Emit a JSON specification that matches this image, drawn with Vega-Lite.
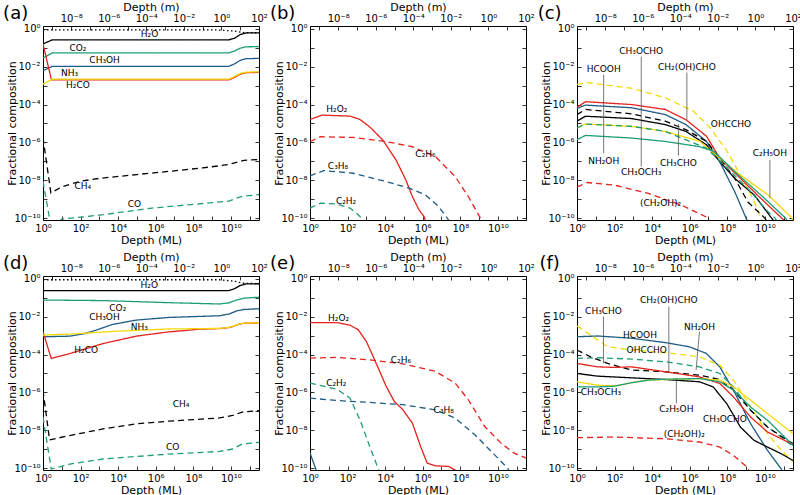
{
"$schema": "https://vega.github.io/schema/vega-lite/v6.json",
"background": "white",
"padding": {"left": 2, "top": 0, "right": 0, "bottom": 0},
"bounds": "flush",
"columns": 3,
"spacing": {"row": 56, "column": 51},
"resolve": {"scale": {"x": "independent", "y": "independent", "color": "independent", "strokeDash": "independent"}},
"config": {
  "view": {"stroke": "#000", "strokeWidth": 1},
  "font": "DejaVu Sans",
  "axis": {"grid": false, "domain": false, "tickColor": "#000", "tickSize": -4, "tickWidth": 0.8, "labelColor": "#000", "labelFontSize": 10, "labelFont": "DejaVu Sans", "titleFont": "DejaVu Sans", "titleFontSize": 11, "titleFontWeight": "normal", "titleColor": "#000", "labelPadding": 7, "labelFlush": false, "labelOverlap": false, "labelBound": false},
  "axisLeft": {"titleX": -26, "titleY": 97, "titleAngle": 270, "titleBaseline": "bottom", "titleAlign": "center"},
  "axisBottom": {"titleX": 108, "titleY": 20, "titleAngle": 0, "titleBaseline": "middle", "titleAlign": "center"},
  "axisTop": {"titleX": 108, "titleY": -19, "titleAngle": 0, "titleBaseline": "middle", "titleAlign": "center"}
},
"datasets": {
  "top": [{"m": 1e-9, "v": 1e-5}, {"m": 100, "v": 1e-5}],
  "letters_a": [{"t": "(a)", "x": 0.035, "y": 6}],
  "letters_b": [{"t": "(b)", "x": 0.035, "y": 6}],
  "letters_c": [{"t": "(c)", "x": 0.035, "y": 6}],
  "letters_d": [{"t": "(d)", "x": 0.035, "y": 6}],
  "letters_e": [{"t": "(e)", "x": 0.035, "y": 6}],
  "letters_f": [{"t": "(f)", "x": 0.035, "y": 6}],
  "a": [
    {"s":"total","x":1,"y":0.871},{"s":"total","x":2.0e9,"y":0.871},{"s":"total","x":1.58e10,"y":0.759},{"s":"total","x":5.01e10,"y":0.631},{"s":"total","x":3.16e11,"y":0.617},
    {"s":"H2O","x":1,"y":0.158},{"s":"H2O","x":3.16,"y":0.263},{"s":"H2O","x":7.94e9,"y":0.263},{"s":"H2O","x":1.58e10,"y":0.316},{"s":"H2O","x":3.16e10,"y":0.501},{"s":"H2O","x":6.31e10,"y":0.603},{"s":"H2O","x":3.16e11,"y":0.617},
    {"s":"CO2","x":1,"y":0.0288},{"s":"CO2","x":3.16,"y":0.0537},{"s":"CO2","x":7.94e9,"y":0.0537},{"s":"CO2","x":1.58e10,"y":0.0676},{"s":"CO2","x":3.16e10,"y":0.0955},{"s":"CO2","x":6.31e10,"y":0.112},{"s":"CO2","x":3.16e11,"y":0.115},
    {"s":"CH3OH","x":1,"y":6.17e-3},{"s":"CH3OH","x":3.16,"y":0.01047},{"s":"CH3OH","x":7.94e9,"y":0.01047},{"s":"CH3OH","x":1.58e10,"y":0.0141},{"s":"CH3OH","x":3.16e10,"y":0.0214},{"s":"CH3OH","x":6.31e10,"y":0.0263},{"s":"CH3OH","x":3.16e11,"y":0.0275},
    {"s":"H2CO","x":1,"y":0.158},{"s":"H2CO","x":2.82,"y":2.0e-3},{"s":"H2CO","x":7.94e9,"y":2.0e-3},{"s":"H2CO","x":1.58e10,"y":2.75e-3},{"s":"H2CO","x":3.16e10,"y":3.98e-3},{"s":"H2CO","x":6.31e10,"y":4.79e-3},{"s":"H2CO","x":3.16e11,"y":5.01e-3},
    {"s":"NH3","x":1,"y":1.2e-3},{"s":"NH3","x":3.16,"y":2.19e-3},{"s":"NH3","x":7.94e9,"y":2.19e-3},{"s":"NH3","x":1.58e10,"y":3.02e-3},{"s":"NH3","x":3.16e10,"y":4.37e-3},{"s":"NH3","x":6.31e10,"y":5.13e-3},{"s":"NH3","x":3.16e11,"y":5.37e-3},
    {"s":"CH4","x":1,"y":1.78e-6},{"s":"CH4","x":2.63,"y":2.14e-9},{"s":"CH4","x":10,"y":4.47e-9},{"s":"CH4","x":100,"y":8.91e-9},{"s":"CH4","x":1000,"y":1.26e-8},{"s":"CH4","x":1e5,"y":2.0e-8},{"s":"CH4","x":1e7,"y":3.16e-8},{"s":"CH4","x":3.16e8,"y":4.47e-8},{"s":"CH4","x":7.94e9,"y":6.76e-8},{"s":"CH4","x":2.0e10,"y":8.91e-8},{"s":"CH4","x":5.01e10,"y":1.12e-7},{"s":"CH4","x":3.16e11,"y":1.26e-7},
    {"s":"CO","x":1,"y":8.91e-9},{"s":"CO","x":2.82,"y":2.51e-11},{"s":"CO","x":10,"y":8.91e-11},{"s":"CO","x":100,"y":1.12e-10},{"s":"CO","x":1585,"y":1.51e-10},{"s":"CO","x":6.31e5,"y":3.39e-10},{"s":"CO","x":7.08e8,"y":6.31e-10},{"s":"CO","x":7.94e9,"y":7.94e-10},{"s":"CO","x":2.0e10,"y":1.12e-9},{"s":"CO","x":3.98e10,"y":1.41e-9},{"s":"CO","x":3.16e11,"y":1.74e-9}
  ],
  "d": [
    {"s":"total","x":1,"y":0.891},{"s":"total","x":2.51e9,"y":0.891},{"s":"total","x":1.58e10,"y":0.741},{"s":"total","x":3.98e10,"y":0.589},{"s":"total","x":3.16e11,"y":0.55},
    {"s":"H2O","x":1,"y":0.24},{"s":"H2O","x":7.94e9,"y":0.24},{"s":"H2O","x":1.58e10,"y":0.302},{"s":"H2O","x":3.16e10,"y":0.447},{"s":"H2O","x":6.31e10,"y":0.537},{"s":"H2O","x":3.16e11,"y":0.55},
    {"s":"CO2","x":1,"y":0.0759},{"s":"CO2","x":1585,"y":0.0708},{"s":"CO2","x":5.01e6,"y":0.055},{"s":"CO2","x":2.51e9,"y":0.0468},{"s":"CO2","x":7.94e9,"y":0.0537},{"s":"CO2","x":2.0e10,"y":0.0759},{"s":"CO2","x":5.01e10,"y":0.0955},{"s":"CO2","x":3.16e11,"y":0.107},
    {"s":"CH3OH","x":1,"y":8.71e-4},{"s":"CH3OH","x":26.3,"y":9.33e-4},{"s":"CH3OH","x":158,"y":1.26e-3},{"s":"CH3OH","x":676,"y":1.95e-3},{"s":"CH3OH","x":5012,"y":3.89e-3},{"s":"CH3OH","x":9.12e4,"y":6.61e-3},{"s":"CH3OH","x":5.01e6,"y":9.12e-3},{"s":"CH3OH","x":2.51e9,"y":0.0112},{"s":"CH3OH","x":7.94e9,"y":0.0138},{"s":"CH3OH","x":2.0e10,"y":0.02},{"s":"CH3OH","x":5.01e10,"y":0.024},{"s":"CH3OH","x":3.16e11,"y":0.0263},
    {"s":"H2CO","x":1,"y":1.58e-3},{"s":"H2CO","x":2.75,"y":6.17e-5},{"s":"H2CO","x":26.3,"y":1.12e-4},{"s":"H2CO","x":1549,"y":3.8e-4},{"s":"H2CO","x":9.12e4,"y":9.33e-4},{"s":"H2CO","x":5.01e6,"y":1.58e-3},{"s":"H2CO","x":6.31e7,"y":1.95e-3},{"s":"H2CO","x":2.0e8,"y":2.19e-3},{"s":"H2CO","x":2.51e9,"y":2.34e-3},{"s":"H2CO","x":1e10,"y":2.75e-3},{"s":"H2CO","x":2.51e10,"y":3.89e-3},{"s":"H2CO","x":5.01e10,"y":4.47e-3},{"s":"H2CO","x":3.16e11,"y":4.68e-3},
    {"s":"NH3","x":1,"y":1.07e-3},{"s":"NH3","x":26.3,"y":1.2e-3},{"s":"NH3","x":1.17e4,"y":1.74e-3},{"s":"NH3","x":5.01e6,"y":2.24e-3},{"s":"NH3","x":2.51e9,"y":2.4e-3},{"s":"NH3","x":1e10,"y":2.82e-3},{"s":"NH3","x":2.51e10,"y":3.98e-3},{"s":"NH3","x":5.01e10,"y":4.57e-3},{"s":"NH3","x":3.16e11,"y":4.79e-3},
    {"s":"CH4","x":1,"y":1.26e-6},{"s":"CH4","x":2.24,"y":3.09e-9},{"s":"CH4","x":26.3,"y":5.25e-9},{"s":"CH4","x":1549,"y":1.17e-8},{"s":"CH4","x":9.12e4,"y":2.19e-8},{"s":"CH4","x":5.01e6,"y":3.02e-8},{"s":"CH4","x":2.51e9,"y":4.47e-8},{"s":"CH4","x":1.26e10,"y":6.03e-8},{"s":"CH4","x":3.98e10,"y":9.12e-8},{"s":"CH4","x":3.16e11,"y":1.1e-7},
    {"s":"CO","x":1,"y":4.9e-8},{"s":"CO","x":2.75,"y":8.91e-11},{"s":"CO","x":26.3,"y":1.62e-10},{"s":"CO","x":1549,"y":3.02e-10},{"s":"CO","x":5.01e6,"y":5.5e-10},{"s":"CO","x":2.51e9,"y":7.59e-10},{"s":"CO","x":1.26e10,"y":1.02e-9},{"s":"CO","x":3.98e10,"y":1.86e-9},{"s":"CO","x":3.16e11,"y":2.29e-9}
  ],
  "b": [
    {"s":"H2O2","x":1,"y":1.62e-5},{"s":"H2O2","x":4.47,"y":2.75e-5},{"s":"H2O2","x":135,"y":2.45e-5},{"s":"H2O2","x":457,"y":1.62e-5},{"s":"H2O2","x":1514,"y":6.61e-6},{"s":"H2O2","x":7586,"y":1.32e-6},{"s":"H2O2","x":3.8e4,"y":1.17e-7},{"s":"H2O2","x":1.26e5,"y":1.05e-8},{"s":"H2O2","x":2.82e5,"y":1.38e-9},{"s":"H2O2","x":6.31e5,"y":2.75e-10},{"s":"H2O2","x":1.17e6,"y":1.23e-10},{"s":"H2O2","x":1.58e6,"y":5.01e-11},
    {"s":"C2H6","x":1,"y":1.1e-6},{"s":"C2H6","x":3.63,"y":2.0e-6},{"s":"C2H6","x":200,"y":1.82e-6},{"s":"C2H6","x":1.15e4,"y":1.1e-6},{"s":"C2H6","x":2.82e5,"y":5.89e-7},{"s":"C2H6","x":4.79e6,"y":1.78e-7},{"s":"C2H6","x":5.37e7,"y":1.55e-8},{"s":"C2H6","x":2.69e8,"y":1.38e-9},{"s":"C2H6","x":1.35e9,"y":7.94e-11},{"s":"C2H6","x":2.0e9,"y":3.98e-11},
    {"s":"C3H8","x":1,"y":1.7e-8},{"s":"C3H8","x":5.37,"y":3.24e-8},{"s":"C3H8","x":200,"y":2.34e-8},{"s":"C3H8","x":1.15e4,"y":8.51e-9},{"s":"C3H8","x":1.91e5,"y":3.8e-9},{"s":"C3H8","x":1.41e6,"y":1.7e-9},{"s":"C3H8","x":7.08e6,"y":4.07e-10},{"s":"C3H8","x":2.4e7,"y":7.94e-11},{"s":"C3H8","x":3.16e7,"y":5.01e-11},
    {"s":"C2H2","x":1,"y":3.39e-10},{"s":"C2H2","x":3.63,"y":6.17e-10},{"s":"C2H2","x":26.9,"y":5.62e-10},{"s":"C2H2","x":135,"y":3.39e-10},{"s":"C2H2","x":372,"y":1.51e-10},{"s":"C2H2","x":676,"y":7.94e-11},{"s":"C2H2","x":891,"y":5.01e-11}
  ],
  "e": [
    {"s":"H2O2","x":1,"y":4.9e-3},{"s":"H2O2","x":26.9,"y":4.9e-3},{"s":"H2O2","x":135,"y":3.55e-3},{"s":"H2O2","x":372,"y":2.04e-3},{"s":"H2O2","x":1000,"y":4.9e-4},{"s":"H2O2","x":2291,"y":7.94e-5},{"s":"H2O2","x":5129,"y":1.29e-5},{"s":"H2O2","x":1.15e4,"y":2.04e-6},{"s":"H2O2","x":3.09e4,"y":3.31e-7},{"s":"H2O2","x":8.51e4,"y":1.26e-7},{"s":"H2O2","x":2.82e5,"y":2.4e-8},{"s":"H2O2","x":7.76e5,"y":1.38e-9},{"s":"H2O2","x":1.74e6,"y":1.82e-10},{"s":"H2O2","x":4.79e6,"y":1.32e-10},{"s":"H2O2","x":2.4e7,"y":1.23e-10},{"s":"H2O2","x":7.94e7,"y":6.31e-11},
    {"s":"C2H6","x":1,"y":6.46e-5},{"s":"C2H6","x":26.9,"y":7.08e-5},{"s":"C2H6","x":1514,"y":5.25e-5},{"s":"C2H6","x":8.51e4,"y":3.24e-5},{"s":"C2H6","x":4.79e6,"y":1.29e-5},{"s":"C2H6","x":5.37e7,"y":3.09e-6},{"s":"C2H6","x":2.69e8,"y":4.07e-7},{"s":"C2H6","x":2.0e9,"y":1.58e-8},{"s":"C2H6","x":1.48e10,"y":2.09e-9},{"s":"C2H6","x":7.41e10,"y":6.17e-10},{"s":"C2H6","x":3.16e11,"y":3.39e-10},
    {"s":"C3H8","x":1,"y":5.01e-7},{"s":"C3H8","x":26.9,"y":3.72e-7},{"s":"C3H8","x":1514,"y":2.95e-7},{"s":"C3H8","x":8.51e4,"y":2.24e-7},{"s":"C3H8","x":4.79e6,"y":1.2e-7},{"s":"C3H8","x":5.37e7,"y":4.37e-8},{"s":"C3H8","x":6.03e8,"y":5.75e-9},{"s":"C3H8","x":6.76e9,"y":5.01e-10},{"s":"C3H8","x":3.31e10,"y":1e-10},{"s":"C3H8","x":5.01e10,"y":5.01e-11},
    {"s":"C2H2","x":1,"y":3.09e-6},{"s":"C2H2","x":26.9,"y":1.48e-6},{"s":"C2H2","x":135,"y":5.01e-7},{"s":"C2H2","x":457,"y":3.55e-8},{"s":"C2H2","x":1514,"y":1.38e-9},{"s":"C2H2","x":4169,"y":1e-10},{"s":"C2H2","x":5623,"y":5.01e-11},
    {"s":"other","x":1,"y":6.31e-10},{"s":"other","x":2.51,"y":5.01e-11}
  ],
  "c": [
    {"s":"OHCCHO","x":1,"y":1.17e-3},{"s":"OHCCHO","x":3.55,"y":1.45e-3},{"s":"OHCCHO","x":794,"y":7.24e-4},{"s":"OHCCHO","x":5.01e4,"y":2.29e-4},{"s":"OHCCHO","x":1.58e6,"y":4.47e-5},{"s":"OHCCHO","x":1.26e7,"y":5.75e-6},{"s":"OHCCHO","x":1e8,"y":3.31e-7},{"s":"OHCCHO","x":5.01e8,"y":1.86e-8},{"s":"OHCCHO","x":2.82e9,"y":7.08e-10},{"s":"OHCCHO","x":6.31e9,"y":1e-10},{"s":"OHCCHO","x":8.91e9,"y":5.01e-11},
    {"s":"CH2(OH)CHO","x":1,"y":7.24e-5},{"s":"CH2(OH)CHO","x":2.82,"y":1.41e-4},{"s":"CH2(OH)CHO","x":794,"y":1e-4},{"s":"CH2(OH)CHO","x":5.01e4,"y":5.5e-5},{"s":"CH2(OH)CHO","x":6.31e5,"y":1.58e-5},{"s":"CH2(OH)CHO","x":7.94e6,"y":2.09e-6},{"s":"CH2(OH)CHO","x":3.98e7,"y":1.45e-7},{"s":"CH2(OH)CHO","x":5.01e8,"y":1.26e-8},{"s":"CH2(OH)CHO","x":6.31e9,"y":1.07e-9},{"s":"CH2(OH)CHO","x":7.94e10,"y":1e-10},{"s":"CH2(OH)CHO","x":1.58e11,"y":5.01e-11},
    {"s":"HCOOH","x":1,"y":6.17e-5},{"s":"HCOOH","x":2.82,"y":9.33e-5},{"s":"HCOOH","x":794,"y":6.76e-5},{"s":"HCOOH","x":5.01e4,"y":2.95e-5},{"s":"HCOOH","x":6.31e5,"y":8.71e-6},{"s":"HCOOH","x":7.94e6,"y":1.12e-6},{"s":"HCOOH","x":3.98e7,"y":9.55e-8},{"s":"HCOOH","x":2.51e8,"y":2.45e-9},{"s":"HCOOH","x":1e9,"y":1e-10},{"s":"HCOOH","x":1.58e9,"y":3.98e-11},
    {"s":"CH3CHO","x":1,"y":2.95e-5},{"s":"CH3CHO","x":2.82,"y":5.5e-5},{"s":"CH3CHO","x":794,"y":3.24e-5},{"s":"CH3CHO","x":5.01e4,"y":1.32e-5},{"s":"CH3CHO","x":6.31e5,"y":4.68e-6},{"s":"CH3CHO","x":7.94e6,"y":1.12e-6},{"s":"CH3CHO","x":3.98e7,"y":1.45e-7},{"s":"CH3CHO","x":2.51e8,"y":1.26e-8},{"s":"CH3CHO","x":1.26e9,"y":7.08e-10},{"s":"CH3CHO","x":1e10,"y":1e-10},{"s":"CH3CHO","x":1.58e10,"y":5.01e-11},
    {"s":"CH3OCHO","x":1,"y":1.32e-5},{"s":"CH3OCHO","x":2.82,"y":2.4e-5},{"s":"CH3OCHO","x":794,"y":1.82e-5},{"s":"CH3OCHO","x":5.01e4,"y":8.71e-6},{"s":"CH3OCHO","x":6.31e5,"y":3.8e-6},{"s":"CH3OCHO","x":7.94e6,"y":7.41e-7},{"s":"CH3OCHO","x":3.98e7,"y":9.55e-8},{"s":"CH3OCHO","x":2.51e8,"y":1.26e-8},{"s":"CH3OCHO","x":2.82e9,"y":1.62e-9},{"s":"CH3OCHO","x":2.29e10,"y":1e-10},{"s":"CH3OCHO","x":3.98e10,"y":5.01e-11},
    {"s":"C2H5OH","x":1,"y":5.75e-6},{"s":"C2H5OH","x":2.82,"y":9.33e-6},{"s":"C2H5OH","x":794,"y":7.08e-6},{"s":"C2H5OH","x":5.01e4,"y":3.8e-6},{"s":"C2H5OH","x":3.55e6,"y":1.12e-6},{"s":"C2H5OH","x":3.98e7,"y":1.45e-7},{"s":"C2H5OH","x":5.01e8,"y":1.86e-8},{"s":"C2H5OH","x":1.58e10,"y":1.62e-9},{"s":"C2H5OH","x":2.82e11,"y":1e-10},{"s":"C2H5OH","x":3.16e11,"y":7.94e-11},
    {"s":"NH2OH","x":1,"y":5.75e-6},{"s":"NH2OH","x":2.82,"y":9.33e-6},{"s":"NH2OH","x":794,"y":7.08e-6},{"s":"NH2OH","x":5.01e4,"y":3.8e-6},{"s":"NH2OH","x":7.94e6,"y":4.9e-7},{"s":"NH2OH","x":1e8,"y":4.27e-8},{"s":"NH2OH","x":1.26e9,"y":3.63e-9},{"s":"NH2OH","x":1.51e10,"y":2.09e-10},{"s":"NH2OH","x":3.55e10,"y":1e-10},{"s":"NH2OH","x":5.01e10,"y":5.01e-11},
    {"s":"CH3OCH3","x":1,"y":1.38e-6},{"s":"CH3OCH3","x":2.82,"y":2.34e-6},{"s":"CH3OCH3","x":794,"y":1.7e-6},{"s":"CH3OCH3","x":5.01e4,"y":1.12e-6},{"s":"CH3OCH3","x":3.16e6,"y":6.03e-7},{"s":"CH3OCH3","x":2.0e7,"y":3.31e-7},{"s":"CH3OCH3","x":2.51e8,"y":2.82e-8},{"s":"CH3OCH3","x":6.31e9,"y":1.62e-9},{"s":"CH3OCH3","x":1.26e11,"y":1e-10},{"s":"CH3OCH3","x":2.0e11,"y":5.01e-11},
    {"s":"(CH2OH)2","x":1,"y":4.47e-9},{"s":"(CH2OH)2","x":3.55,"y":7.59e-9},{"s":"(CH2OH)2","x":100,"y":5.5e-9},{"s":"(CH2OH)2","x":6310,"y":2.0e-9},{"s":"(CH2OH)2","x":3.98e5,"y":4.68e-10},{"s":"(CH2OH)2","x":7.94e6,"y":1.12e-10},{"s":"(CH2OH)2","x":1.58e7,"y":5.01e-11}
  ],
  "f": [
    {"s":"HCOOH","x":1,"y":8.71e-4},{"s":"HCOOH","x":12.3,"y":9.55e-4},{"s":"HCOOH","x":794,"y":7.24e-4},{"s":"HCOOH","x":5.13e4,"y":4.27e-4},{"s":"HCOOH","x":9.55e5,"y":2.57e-4},{"s":"HCOOH","x":7.59e6,"y":1.15e-4},{"s":"HCOOH","x":3.98e7,"y":2.24e-5},{"s":"HCOOH","x":2.14e8,"y":1.32e-6},{"s":"HCOOH","x":1.74e9,"y":2.24e-8},{"s":"HCOOH","x":1.38e10,"y":8.71e-10},{"s":"HCOOH","x":7.41e10,"y":9.12e-11},{"s":"HCOOH","x":1.26e11,"y":3.98e-11},
    {"s":"OHCCHO","x":1,"y":3.24e-3},{"s":"OHCCHO","x":5.25,"y":1.07e-3},{"s":"OHCCHO","x":42.7,"y":2.57e-4},{"s":"OHCCHO","x":794,"y":1.74e-4},{"s":"OHCCHO","x":5.13e4,"y":1.26e-4},{"s":"OHCCHO","x":3.31e6,"y":7.59e-5},{"s":"OHCCHO","x":3.98e7,"y":2.75e-5},{"s":"OHCCHO","x":2.14e8,"y":4.47e-6},{"s":"OHCCHO","x":1.74e9,"y":1.7e-7},{"s":"OHCCHO","x":1.38e10,"y":6.61e-9},{"s":"OHCCHO","x":7.41e10,"y":8.71e-10},{"s":"OHCCHO","x":3.16e11,"y":2.24e-10},
    {"s":"NH2OH","x":1,"y":6.31e-5},{"s":"NH2OH","x":12.3,"y":6.76e-5},{"s":"NH2OH","x":794,"y":5.75e-5},{"s":"NH2OH","x":5.13e4,"y":4.17e-5},{"s":"NH2OH","x":3.31e6,"y":2.24e-5},{"s":"NH2OH","x":3.98e7,"y":1e-5},{"s":"NH2OH","x":2.14e8,"y":1.95e-6},{"s":"NH2OH","x":1.74e9,"y":1.15e-7},{"s":"NH2OH","x":1.38e10,"y":1.48e-8},{"s":"NH2OH","x":7.41e10,"y":4.37e-9},{"s":"NH2OH","x":3.16e11,"y":1.41e-9},
    {"s":"CH3CHO","x":1,"y":1.74e-4},{"s":"CH3CHO","x":5.25,"y":7.59e-5},{"s":"CH3CHO","x":42.7,"y":3.39e-5},{"s":"CH3CHO","x":794,"y":1.51e-5},{"s":"CH3CHO","x":5.13e4,"y":1.23e-5},{"s":"CH3CHO","x":3.31e6,"y":8.13e-6},{"s":"CH3CHO","x":3.98e7,"y":4.79e-6},{"s":"CH3CHO","x":2.14e8,"y":1.32e-6},{"s":"CH3CHO","x":1.74e9,"y":1.15e-7},{"s":"CH3CHO","x":1.38e10,"y":1.48e-8},{"s":"CH3CHO","x":1.58e11,"y":2.95e-9},{"s":"CH3CHO","x":3.16e11,"y":2.0e-9},
    {"s":"CH2(OH)CHO","x":1,"y":3.39e-5},{"s":"CH2(OH)CHO","x":12.3,"y":2.24e-5},{"s":"CH2(OH)CHO","x":100,"y":2.09e-5},{"s":"CH2(OH)CHO","x":794,"y":2.24e-5},{"s":"CH2(OH)CHO","x":5.13e4,"y":1.23e-5},{"s":"CH2(OH)CHO","x":3.31e6,"y":6.61e-6},{"s":"CH2(OH)CHO","x":3.98e7,"y":2.95e-6},{"s":"CH2(OH)CHO","x":2.14e8,"y":5.75e-7},{"s":"CH2(OH)CHO","x":1.74e9,"y":5.01e-8},{"s":"CH2(OH)CHO","x":1.38e10,"y":8.13e-9},{"s":"CH2(OH)CHO","x":7.41e10,"y":3.55e-9},{"s":"CH2(OH)CHO","x":3.16e11,"y":1.78e-9},
    {"s":"CH3OCHO","x":1,"y":1e-5},{"s":"CH3OCHO","x":12.3,"y":7.24e-6},{"s":"CH3OCHO","x":794,"y":5.89e-6},{"s":"CH3OCHO","x":5.13e4,"y":4.79e-6},{"s":"CH3OCHO","x":3.31e6,"y":3.63e-6},{"s":"CH3OCHO","x":1.78e7,"y":1.95e-6},{"s":"CH3OCHO","x":9.33e7,"y":2.57e-7},{"s":"CH3OCHO","x":5.01e8,"y":1.48e-8},{"s":"CH3OCHO","x":2.63e9,"y":2.95e-9},{"s":"CH3OCHO","x":1.38e10,"y":1.29e-9},{"s":"CH3OCHO","x":7.41e10,"y":5.75e-10},{"s":"CH3OCHO","x":3.16e11,"y":2.51e-10},
    {"s":"C2H5OH","x":1,"y":3.63e-6},{"s":"C2H5OH","x":12.3,"y":2.4e-6},{"s":"C2H5OH","x":100,"y":2.14e-6},{"s":"C2H5OH","x":794,"y":3.24e-6},{"s":"C2H5OH","x":6310,"y":4.47e-6},{"s":"C2H5OH","x":3.31e6,"y":5.37e-6},{"s":"C2H5OH","x":3.98e7,"y":4.47e-6},{"s":"C2H5OH","x":2.14e8,"y":1.95e-6},{"s":"C2H5OH","x":1.74e9,"y":3.89e-7},{"s":"C2H5OH","x":1.38e10,"y":7.59e-8},{"s":"C2H5OH","x":1.12e11,"y":1.48e-8},{"s":"C2H5OH","x":3.16e11,"y":6.61e-9},
    {"s":"CH3OCH3","x":1,"y":1.95e-6},{"s":"CH3OCH3","x":12.3,"y":1.95e-6},{"s":"CH3OCH3","x":100,"y":2.14e-6},{"s":"CH3OCH3","x":794,"y":3.24e-6},{"s":"CH3OCH3","x":6310,"y":4.47e-6},{"s":"CH3OCH3","x":5.13e4,"y":5.01e-6},{"s":"CH3OCH3","x":3.31e6,"y":5.37e-6},{"s":"CH3OCH3","x":3.98e7,"y":3.63e-6},{"s":"CH3OCH3","x":2.14e8,"y":1.32e-6},{"s":"CH3OCH3","x":1.74e9,"y":1.7e-7},{"s":"CH3OCH3","x":1.38e10,"y":3.39e-8},{"s":"CH3OCH3","x":7.41e10,"y":6.61e-9},{"s":"CH3OCH3","x":3.16e11,"y":1.58e-9},
    {"s":"(CH2OH)2","x":1,"y":4.07e-9},{"s":"(CH2OH)2","x":100,"y":4.37e-9},{"s":"(CH2OH)2","x":5.13e4,"y":3.55e-9},{"s":"(CH2OH)2","x":3.31e6,"y":2.4e-9},{"s":"(CH2OH)2","x":3.98e7,"y":1.29e-9},{"s":"(CH2OH)2","x":2.14e8,"y":4.68e-10},{"s":"(CH2OH)2","x":1.15e9,"y":1.12e-10},{"s":"(CH2OH)2","x":1.58e9,"y":6.31e-11}
  ],
  "la": [{"t":"H₂O","x":4.68e5,"y":0.537},{"t":"CO₂","x":72.4,"y":0.0933},{"t":"CH₃OH","x":1905,"y":0.0224},{"t":"NH₃","x":26.3,"y":4.57e-3},{"t":"H₂CO","x":72.4,"y":1.1e-3},{"t":"CH₄","x":132,"y":4.79e-9},{"t":"CO","x":7.41e4,"y":5.75e-10}],
  "ld": [{"t":"H₂O","x":4.57e5,"y":0.479},{"t":"CO₂","x":9550,"y":0.0275},{"t":"CH₃OH","x":1862,"y":9.12e-3},{"t":"NH₃","x":1.35e5,"y":2.95e-3},{"t":"H₂CO","x":200,"y":1.7e-4},{"t":"CH₄","x":2.24e7,"y":2.51e-7},{"t":"CO","x":7.94e6,"y":1.26e-9}],
  "lb": [{"t":"H₂O₂","x":26.9,"y":6.17e-5},{"t":"C₂H₆","x":1.41e6,"y":2.45e-7},{"t":"C₃H₈","x":30.9,"y":5.89e-8},{"t":"C₂H₂","x":83.2,"y":7.59e-10}],
  "le": [{"t":"H₂O₂","x":33.1,"y":8.32e-3},{"t":"C₂H₆","x":6.92e4,"y":5.25e-5},{"t":"C₂H₂","x":25.1,"y":3.09e-6},{"t":"C₃H₈","x":1.32e7,"y":1.2e-7}],
  "lc": [{"t":"HCOOH","x":26.3,"y":7.94e-3},{"t":"NH₂OH","x":26.3,"y":1e-7},{"t":"CH₃OCHO","x":2630,"y":0.0708},{"t":"CH₃OCH₃","x":2630,"y":2.82e-8},{"t":"CH₂(OH)CHO","x":7.08e5,"y":0.01},{"t":"CH₃CHO","x":2.51e5,"y":8.51e-8},{"t":"OHCCHO","x":1.58e8,"y":9.33e-6},{"t":"C₂H₅OH","x":1.86e10,"y":2.69e-7},{"t":"(CH₂OH)₂","x":2.82e4,"y":6.61e-10}],
  "lf": [{"t":"CH₃CHO","x":25.7,"y":0.02},{"t":"CH₂(OH)CHO","x":7.76e4,"y":0.0776},{"t":"NH₂OH","x":3.31e6,"y":2.95e-3},{"t":"HCOOH","x":2239,"y":1.07e-3},{"t":"OHCCHO","x":5129,"y":1.74e-4},{"t":"CH₃OCH₃","x":18.6,"y":1.07e-6},{"t":"C₂H₅OH","x":1.95e5,"y":1.29e-7},{"t":"CH₃OCHO","x":7.59e7,"y":4.07e-8},{"t":"(CH₂OH)₂","x":5.13e5,"y":6.61e-9}],
  "rc": [{"x":26.3,"x2":26.3,"y":3.72e-3,"y2":2.69e-7},{"x":2630,"x2":2630,"y":0.0339,"y2":5.25e-8},{"x":7.08e5,"x2":7.08e5,"y":4.9e-3,"y2":1.58e-5},{"x":2.51e5,"x2":2.51e5,"y":9.33e-6,"y2":2.0e-7},{"x":1.86e10,"x2":1.86e10,"y":1.17e-7,"y2":1.17e-9}],
  "rf": [{"x":25.7,"x2":25.7,"y":0.01,"y2":3.39e-5},{"x":7.76e4,"x2":7.76e4,"y":0.0339,"y2":1.23e-5},{"x":3.31e6,"x2":2.19e6,"y":1.62e-3,"y2":1.51e-5},{"x":1.95e5,"x2":1.95e5,"y":5.37e-6,"y2":2.57e-7}]
},
"concat": [
{
 "width": 216, "height": 194,
 "layer": [
    {"data": {"name": "a"}, "mark": {"type": "line", "clip": true, "strokeWidth": 1.3},
     "encoding": {
      "x": {"field": "x", "type": "quantitative", "scale": {"type": "log", "domain": [1, 3.162e11]}, "axis": {"orient": "bottom", "values": [1,10,100,1000,1e4,1e5,1e6,1e7,1e8,1e9,1e10,1e11], "labelExpr": "['10⁻¹⁰','','10⁻⁸','','10⁻⁶','','10⁻⁴','','10⁻²','','10⁰','','10²','','10⁴','','10⁶','','10⁸','','10¹⁰','',''][round(log(datum.value)/LN10)+10]", "title": "Depth (ML)"}},
      "y": {"field": "y", "type": "quantitative", "scale": {"type": "log", "domain": [7.94e-11, 1.41]}, "axis": {"orient": "left", "values": [1e-10,1e-9,1e-8,1e-7,1e-6,1e-5,1e-4,1e-3,1e-2,1e-1,1], "labelExpr": "['10⁻¹⁰','','10⁻⁸','','10⁻⁶','','10⁻⁴','','10⁻²','','10⁰','','10²','','10⁴','','10⁶','','10⁸','','10¹⁰','',''][round(log(datum.value)/LN10)+10]", "title": "Fractional composition"}},
      "color": {"field": "s", "type": "nominal", "legend": null, "scale": {"domain": ["total","H2O","CO2","CH3OH","H2CO","NH3","CH4","CO"], "range": ["#000000","#000000","#1b9e77","#1f5c85","#e3231c","#f5d90a","#000000","#1b9e77"]}},
      "strokeDash": {"field": "s", "type": "nominal", "legend": null, "scale": {"domain": ["total","H2O","CO2","CH3OH","H2CO","NH3","CH4","CO"], "range": [[1.5,2.5],[1,0],[1,0],[1,0],[1,0],[1,0],[6,4],[6,4]]}}
     }},
    {"data": {"name": "la"}, "mark": {"type": "text", "fontSize": 9, "color": "#000"},
     "encoding": {"x": {"field": "x", "type": "quantitative", "scale": {"type": "log", "domain": [1, 3.162e11]}, "axis": null}, "y": {"field": "y", "type": "quantitative", "scale": {"type": "log", "domain": [7.94e-11, 1.41]}, "axis": null}, "text": {"field": "t"}}},
    {"data": {"name": "letters_a"}, "mark": {"type": "text", "fontSize": 18, "color": "#000"},
     "encoding": {"x": {"field": "x", "type": "quantitative", "scale": {"type": "log", "domain": [1, 3.162e11]}, "axis": null}, "y": {"field": "y", "type": "quantitative", "scale": {"type": "log", "domain": [7.94e-11, 1.41]}, "axis": null}, "text": {"field": "t"}}},
    {"data": {"name": "top"}, "mark": {"type": "point", "opacity": 0},
     "encoding": {
      "x": {"field": "m", "type": "quantitative", "scale": {"type": "log", "domain": [3.162e-10, 100]}, "axis": {"orient": "top", "values": [1e-9,1e-8,1e-7,1e-6,1e-5,1e-4,1e-3,1e-2,1e-1,1,10,100], "labelExpr": "['10⁻¹⁰','','10⁻⁸','','10⁻⁶','','10⁻⁴','','10⁻²','','10⁰','','10²','','10⁴','','10⁶','','10⁸','','10¹⁰','',''][round(log(datum.value)/LN10)+10]", "title": "Depth (m)"}},
      "y": {"field": "v", "type": "quantitative", "scale": {"type": "log", "domain": [7.94e-11, 1.41]}, "axis": {"orient": "right", "values": [1e-10,1e-9,1e-8,1e-7,1e-6,1e-5,1e-4,1e-3,1e-2,1e-1,1], "labels": false, "title": null}}
     }}
 ],
 "resolve": {"scale": {"x": "independent", "y": "independent"}}
},
{
 "width": 216, "height": 194,
 "layer": [
    {"data": {"name": "b"}, "mark": {"type": "line", "clip": true, "strokeWidth": 1.3},
     "encoding": {
      "x": {"field": "x", "type": "quantitative", "scale": {"type": "log", "domain": [1, 3.162e11]}, "axis": {"orient": "bottom", "values": [1,10,100,1000,1e4,1e5,1e6,1e7,1e8,1e9,1e10,1e11], "labelExpr": "['10⁻¹⁰','','10⁻⁸','','10⁻⁶','','10⁻⁴','','10⁻²','','10⁰','','10²','','10⁴','','10⁶','','10⁸','','10¹⁰','',''][round(log(datum.value)/LN10)+10]", "title": "Depth (ML)"}},
      "y": {"field": "y", "type": "quantitative", "scale": {"type": "log", "domain": [7.94e-11, 1.41]}, "axis": {"orient": "left", "values": [1e-10,1e-9,1e-8,1e-7,1e-6,1e-5,1e-4,1e-3,1e-2,1e-1,1], "labelExpr": "['10⁻¹⁰','','10⁻⁸','','10⁻⁶','','10⁻⁴','','10⁻²','','10⁰','','10²','','10⁴','','10⁶','','10⁸','','10¹⁰','',''][round(log(datum.value)/LN10)+10]", "title": "Fractional composition"}},
      "color": {"field": "s", "type": "nominal", "legend": null, "scale": {"domain": ["H2O2","C2H6","C3H8","C2H2","other"], "range": ["#e3231c","#e3231c","#1f5c85","#1b9e77","#1f5c85"]}},
      "strokeDash": {"field": "s", "type": "nominal", "legend": null, "scale": {"domain": ["H2O2","C2H6","C3H8","C2H2","other"], "range": [[1,0],[6,4],[6,4],[6,4],[1,0]]}}
     }},
    {"data": {"name": "lb"}, "mark": {"type": "text", "fontSize": 9, "color": "#000"},
     "encoding": {"x": {"field": "x", "type": "quantitative", "scale": {"type": "log", "domain": [1, 3.162e11]}, "axis": null}, "y": {"field": "y", "type": "quantitative", "scale": {"type": "log", "domain": [7.94e-11, 1.41]}, "axis": null}, "text": {"field": "t"}}},
    {"data": {"name": "letters_b"}, "mark": {"type": "text", "fontSize": 18, "color": "#000"},
     "encoding": {"x": {"field": "x", "type": "quantitative", "scale": {"type": "log", "domain": [1, 3.162e11]}, "axis": null}, "y": {"field": "y", "type": "quantitative", "scale": {"type": "log", "domain": [7.94e-11, 1.41]}, "axis": null}, "text": {"field": "t"}}},
    {"data": {"name": "top"}, "mark": {"type": "point", "opacity": 0},
     "encoding": {
      "x": {"field": "m", "type": "quantitative", "scale": {"type": "log", "domain": [3.162e-10, 100]}, "axis": {"orient": "top", "values": [1e-9,1e-8,1e-7,1e-6,1e-5,1e-4,1e-3,1e-2,1e-1,1,10,100], "labelExpr": "['10⁻¹⁰','','10⁻⁸','','10⁻⁶','','10⁻⁴','','10⁻²','','10⁰','','10²','','10⁴','','10⁶','','10⁸','','10¹⁰','',''][round(log(datum.value)/LN10)+10]", "title": "Depth (m)"}},
      "y": {"field": "v", "type": "quantitative", "scale": {"type": "log", "domain": [7.94e-11, 1.41]}, "axis": {"orient": "right", "values": [1e-10,1e-9,1e-8,1e-7,1e-6,1e-5,1e-4,1e-3,1e-2,1e-1,1], "labels": false, "title": null}}
     }}
 ],
 "resolve": {"scale": {"x": "independent", "y": "independent"}}
},
{
 "width": 216, "height": 194,
 "layer": [
    {"data": {"name": "c"}, "mark": {"type": "line", "clip": true, "strokeWidth": 1.3},
     "encoding": {
      "x": {"field": "x", "type": "quantitative", "scale": {"type": "log", "domain": [1, 3.162e11]}, "axis": {"orient": "bottom", "values": [1,10,100,1000,1e4,1e5,1e6,1e7,1e8,1e9,1e10,1e11], "labelExpr": "['10⁻¹⁰','','10⁻⁸','','10⁻⁶','','10⁻⁴','','10⁻²','','10⁰','','10²','','10⁴','','10⁶','','10⁸','','10¹⁰','',''][round(log(datum.value)/LN10)+10]", "title": "Depth (ML)"}},
      "y": {"field": "y", "type": "quantitative", "scale": {"type": "log", "domain": [7.94e-11, 1.41]}, "axis": {"orient": "left", "values": [1e-10,1e-9,1e-8,1e-7,1e-6,1e-5,1e-4,1e-3,1e-2,1e-1,1], "labelExpr": "['10⁻¹⁰','','10⁻⁸','','10⁻⁶','','10⁻⁴','','10⁻²','','10⁰','','10²','','10⁴','','10⁶','','10⁸','','10¹⁰','',''][round(log(datum.value)/LN10)+10]", "title": "Fractional composition"}},
      "color": {"field": "s", "type": "nominal", "legend": null, "scale": {"domain": ["OHCCHO","CH2(OH)CHO","HCOOH","CH3CHO","CH3OCHO","C2H5OH","NH2OH","CH3OCH3","(CH2OH)2"], "range": ["#f5d90a","#e3231c","#1f5c85","#000000","#000000","#f5d90a","#1b9e77","#1b9e77","#e3231c"]}},
      "strokeDash": {"field": "s", "type": "nominal", "legend": null, "scale": {"domain": ["OHCCHO","CH2(OH)CHO","HCOOH","CH3CHO","CH3OCHO","C2H5OH","NH2OH","CH3OCH3","(CH2OH)2"], "range": [[6,4],[1,0],[1,0],[6,4],[1,0],[1,0],[6,4],[1,0],[6,4]]}}
     }},
    {"data": {"name": "rc"}, "mark": {"type": "rule", "color": "#555", "strokeWidth": 0.8},
     "encoding": {"x": {"field": "x", "type": "quantitative", "scale": {"type": "log", "domain": [1, 3.162e11]}, "axis": null}, "x2": {"field": "x2"}, "y": {"field": "y", "type": "quantitative", "scale": {"type": "log", "domain": [7.94e-11, 1.41]}, "axis": null}, "y2": {"field": "y2"}}},
    {"data": {"name": "lc"}, "mark": {"type": "text", "fontSize": 9, "color": "#000"},
     "encoding": {"x": {"field": "x", "type": "quantitative", "scale": {"type": "log", "domain": [1, 3.162e11]}, "axis": null}, "y": {"field": "y", "type": "quantitative", "scale": {"type": "log", "domain": [7.94e-11, 1.41]}, "axis": null}, "text": {"field": "t"}}},
    {"data": {"name": "letters_c"}, "mark": {"type": "text", "fontSize": 18, "color": "#000"},
     "encoding": {"x": {"field": "x", "type": "quantitative", "scale": {"type": "log", "domain": [1, 3.162e11]}, "axis": null}, "y": {"field": "y", "type": "quantitative", "scale": {"type": "log", "domain": [7.94e-11, 1.41]}, "axis": null}, "text": {"field": "t"}}},
    {"data": {"name": "top"}, "mark": {"type": "point", "opacity": 0},
     "encoding": {
      "x": {"field": "m", "type": "quantitative", "scale": {"type": "log", "domain": [3.162e-10, 100]}, "axis": {"orient": "top", "values": [1e-9,1e-8,1e-7,1e-6,1e-5,1e-4,1e-3,1e-2,1e-1,1,10,100], "labelExpr": "['10⁻¹⁰','','10⁻⁸','','10⁻⁶','','10⁻⁴','','10⁻²','','10⁰','','10²','','10⁴','','10⁶','','10⁸','','10¹⁰','',''][round(log(datum.value)/LN10)+10]", "title": "Depth (m)"}},
      "y": {"field": "v", "type": "quantitative", "scale": {"type": "log", "domain": [7.94e-11, 1.41]}, "axis": {"orient": "right", "values": [1e-10,1e-9,1e-8,1e-7,1e-6,1e-5,1e-4,1e-3,1e-2,1e-1,1], "labels": false, "title": null}}
     }}
 ],
 "resolve": {"scale": {"x": "independent", "y": "independent"}}
},
{
 "width": 216, "height": 194,
 "layer": [
    {"data": {"name": "d"}, "mark": {"type": "line", "clip": true, "strokeWidth": 1.3},
     "encoding": {
      "x": {"field": "x", "type": "quantitative", "scale": {"type": "log", "domain": [1, 3.162e11]}, "axis": {"orient": "bottom", "values": [1,10,100,1000,1e4,1e5,1e6,1e7,1e8,1e9,1e10,1e11], "labelExpr": "['10⁻¹⁰','','10⁻⁸','','10⁻⁶','','10⁻⁴','','10⁻²','','10⁰','','10²','','10⁴','','10⁶','','10⁸','','10¹⁰','',''][round(log(datum.value)/LN10)+10]", "title": "Depth (ML)"}},
      "y": {"field": "y", "type": "quantitative", "scale": {"type": "log", "domain": [7.94e-11, 1.41]}, "axis": {"orient": "left", "values": [1e-10,1e-9,1e-8,1e-7,1e-6,1e-5,1e-4,1e-3,1e-2,1e-1,1], "labelExpr": "['10⁻¹⁰','','10⁻⁸','','10⁻⁶','','10⁻⁴','','10⁻²','','10⁰','','10²','','10⁴','','10⁶','','10⁸','','10¹⁰','',''][round(log(datum.value)/LN10)+10]", "title": "Fractional composition"}},
      "color": {"field": "s", "type": "nominal", "legend": null, "scale": {"domain": ["total","H2O","CO2","CH3OH","H2CO","NH3","CH4","CO"], "range": ["#000000","#000000","#1b9e77","#1f5c85","#e3231c","#f5d90a","#000000","#1b9e77"]}},
      "strokeDash": {"field": "s", "type": "nominal", "legend": null, "scale": {"domain": ["total","H2O","CO2","CH3OH","H2CO","NH3","CH4","CO"], "range": [[1.5,2.5],[1,0],[1,0],[1,0],[1,0],[1,0],[6,4],[6,4]]}}
     }},
    {"data": {"name": "ld"}, "mark": {"type": "text", "fontSize": 9, "color": "#000"},
     "encoding": {"x": {"field": "x", "type": "quantitative", "scale": {"type": "log", "domain": [1, 3.162e11]}, "axis": null}, "y": {"field": "y", "type": "quantitative", "scale": {"type": "log", "domain": [7.94e-11, 1.41]}, "axis": null}, "text": {"field": "t"}}},
    {"data": {"name": "letters_d"}, "mark": {"type": "text", "fontSize": 18, "color": "#000"},
     "encoding": {"x": {"field": "x", "type": "quantitative", "scale": {"type": "log", "domain": [1, 3.162e11]}, "axis": null}, "y": {"field": "y", "type": "quantitative", "scale": {"type": "log", "domain": [7.94e-11, 1.41]}, "axis": null}, "text": {"field": "t"}}},
    {"data": {"name": "top"}, "mark": {"type": "point", "opacity": 0},
     "encoding": {
      "x": {"field": "m", "type": "quantitative", "scale": {"type": "log", "domain": [3.162e-10, 100]}, "axis": {"orient": "top", "values": [1e-9,1e-8,1e-7,1e-6,1e-5,1e-4,1e-3,1e-2,1e-1,1,10,100], "labelExpr": "['10⁻¹⁰','','10⁻⁸','','10⁻⁶','','10⁻⁴','','10⁻²','','10⁰','','10²','','10⁴','','10⁶','','10⁸','','10¹⁰','',''][round(log(datum.value)/LN10)+10]", "title": "Depth (m)"}},
      "y": {"field": "v", "type": "quantitative", "scale": {"type": "log", "domain": [7.94e-11, 1.41]}, "axis": {"orient": "right", "values": [1e-10,1e-9,1e-8,1e-7,1e-6,1e-5,1e-4,1e-3,1e-2,1e-1,1], "labels": false, "title": null}}
     }}
 ],
 "resolve": {"scale": {"x": "independent", "y": "independent"}}
},
{
 "width": 216, "height": 194,
 "layer": [
    {"data": {"name": "e"}, "mark": {"type": "line", "clip": true, "strokeWidth": 1.3},
     "encoding": {
      "x": {"field": "x", "type": "quantitative", "scale": {"type": "log", "domain": [1, 3.162e11]}, "axis": {"orient": "bottom", "values": [1,10,100,1000,1e4,1e5,1e6,1e7,1e8,1e9,1e10,1e11], "labelExpr": "['10⁻¹⁰','','10⁻⁸','','10⁻⁶','','10⁻⁴','','10⁻²','','10⁰','','10²','','10⁴','','10⁶','','10⁸','','10¹⁰','',''][round(log(datum.value)/LN10)+10]", "title": "Depth (ML)"}},
      "y": {"field": "y", "type": "quantitative", "scale": {"type": "log", "domain": [7.94e-11, 1.41]}, "axis": {"orient": "left", "values": [1e-10,1e-9,1e-8,1e-7,1e-6,1e-5,1e-4,1e-3,1e-2,1e-1,1], "labelExpr": "['10⁻¹⁰','','10⁻⁸','','10⁻⁶','','10⁻⁴','','10⁻²','','10⁰','','10²','','10⁴','','10⁶','','10⁸','','10¹⁰','',''][round(log(datum.value)/LN10)+10]", "title": "Fractional composition"}},
      "color": {"field": "s", "type": "nominal", "legend": null, "scale": {"domain": ["H2O2","C2H6","C3H8","C2H2","other"], "range": ["#e3231c","#e3231c","#1f5c85","#1b9e77","#1f5c85"]}},
      "strokeDash": {"field": "s", "type": "nominal", "legend": null, "scale": {"domain": ["H2O2","C2H6","C3H8","C2H2","other"], "range": [[1,0],[6,4],[6,4],[6,4],[1,0]]}}
     }},
    {"data": {"name": "le"}, "mark": {"type": "text", "fontSize": 9, "color": "#000"},
     "encoding": {"x": {"field": "x", "type": "quantitative", "scale": {"type": "log", "domain": [1, 3.162e11]}, "axis": null}, "y": {"field": "y", "type": "quantitative", "scale": {"type": "log", "domain": [7.94e-11, 1.41]}, "axis": null}, "text": {"field": "t"}}},
    {"data": {"name": "letters_e"}, "mark": {"type": "text", "fontSize": 18, "color": "#000"},
     "encoding": {"x": {"field": "x", "type": "quantitative", "scale": {"type": "log", "domain": [1, 3.162e11]}, "axis": null}, "y": {"field": "y", "type": "quantitative", "scale": {"type": "log", "domain": [7.94e-11, 1.41]}, "axis": null}, "text": {"field": "t"}}},
    {"data": {"name": "top"}, "mark": {"type": "point", "opacity": 0},
     "encoding": {
      "x": {"field": "m", "type": "quantitative", "scale": {"type": "log", "domain": [3.162e-10, 100]}, "axis": {"orient": "top", "values": [1e-9,1e-8,1e-7,1e-6,1e-5,1e-4,1e-3,1e-2,1e-1,1,10,100], "labelExpr": "['10⁻¹⁰','','10⁻⁸','','10⁻⁶','','10⁻⁴','','10⁻²','','10⁰','','10²','','10⁴','','10⁶','','10⁸','','10¹⁰','',''][round(log(datum.value)/LN10)+10]", "title": "Depth (m)"}},
      "y": {"field": "v", "type": "quantitative", "scale": {"type": "log", "domain": [7.94e-11, 1.41]}, "axis": {"orient": "right", "values": [1e-10,1e-9,1e-8,1e-7,1e-6,1e-5,1e-4,1e-3,1e-2,1e-1,1], "labels": false, "title": null}}
     }}
 ],
 "resolve": {"scale": {"x": "independent", "y": "independent"}}
},
{
 "width": 216, "height": 194,
 "layer": [
    {"data": {"name": "f"}, "mark": {"type": "line", "clip": true, "strokeWidth": 1.3},
     "encoding": {
      "x": {"field": "x", "type": "quantitative", "scale": {"type": "log", "domain": [1, 3.162e11]}, "axis": {"orient": "bottom", "values": [1,10,100,1000,1e4,1e5,1e6,1e7,1e8,1e9,1e10,1e11], "labelExpr": "['10⁻¹⁰','','10⁻⁸','','10⁻⁶','','10⁻⁴','','10⁻²','','10⁰','','10²','','10⁴','','10⁶','','10⁸','','10¹⁰','',''][round(log(datum.value)/LN10)+10]", "title": "Depth (ML)"}},
      "y": {"field": "y", "type": "quantitative", "scale": {"type": "log", "domain": [7.94e-11, 1.41]}, "axis": {"orient": "left", "values": [1e-10,1e-9,1e-8,1e-7,1e-6,1e-5,1e-4,1e-3,1e-2,1e-1,1], "labelExpr": "['10⁻¹⁰','','10⁻⁸','','10⁻⁶','','10⁻⁴','','10⁻²','','10⁰','','10²','','10⁴','','10⁶','','10⁸','','10¹⁰','',''][round(log(datum.value)/LN10)+10]", "title": "Fractional composition"}},
      "color": {"field": "s", "type": "nominal", "legend": null, "scale": {"domain": ["OHCCHO","CH2(OH)CHO","HCOOH","CH3CHO","CH3OCHO","C2H5OH","NH2OH","CH3OCH3","(CH2OH)2"], "range": ["#f5d90a","#e3231c","#1f5c85","#000000","#000000","#f5d90a","#1b9e77","#1b9e77","#e3231c"]}},
      "strokeDash": {"field": "s", "type": "nominal", "legend": null, "scale": {"domain": ["OHCCHO","CH2(OH)CHO","HCOOH","CH3CHO","CH3OCHO","C2H5OH","NH2OH","CH3OCH3","(CH2OH)2"], "range": [[6,4],[1,0],[1,0],[6,4],[1,0],[1,0],[6,4],[1,0],[6,4]]}}
     }},
    {"data": {"name": "rf"}, "mark": {"type": "rule", "color": "#555", "strokeWidth": 0.8},
     "encoding": {"x": {"field": "x", "type": "quantitative", "scale": {"type": "log", "domain": [1, 3.162e11]}, "axis": null}, "x2": {"field": "x2"}, "y": {"field": "y", "type": "quantitative", "scale": {"type": "log", "domain": [7.94e-11, 1.41]}, "axis": null}, "y2": {"field": "y2"}}},
    {"data": {"name": "lf"}, "mark": {"type": "text", "fontSize": 9, "color": "#000"},
     "encoding": {"x": {"field": "x", "type": "quantitative", "scale": {"type": "log", "domain": [1, 3.162e11]}, "axis": null}, "y": {"field": "y", "type": "quantitative", "scale": {"type": "log", "domain": [7.94e-11, 1.41]}, "axis": null}, "text": {"field": "t"}}},
    {"data": {"name": "letters_f"}, "mark": {"type": "text", "fontSize": 18, "color": "#000"},
     "encoding": {"x": {"field": "x", "type": "quantitative", "scale": {"type": "log", "domain": [1, 3.162e11]}, "axis": null}, "y": {"field": "y", "type": "quantitative", "scale": {"type": "log", "domain": [7.94e-11, 1.41]}, "axis": null}, "text": {"field": "t"}}},
    {"data": {"name": "top"}, "mark": {"type": "point", "opacity": 0},
     "encoding": {
      "x": {"field": "m", "type": "quantitative", "scale": {"type": "log", "domain": [3.162e-10, 100]}, "axis": {"orient": "top", "values": [1e-9,1e-8,1e-7,1e-6,1e-5,1e-4,1e-3,1e-2,1e-1,1,10,100], "labelExpr": "['10⁻¹⁰','','10⁻⁸','','10⁻⁶','','10⁻⁴','','10⁻²','','10⁰','','10²','','10⁴','','10⁶','','10⁸','','10¹⁰','',''][round(log(datum.value)/LN10)+10]", "title": "Depth (m)"}},
      "y": {"field": "v", "type": "quantitative", "scale": {"type": "log", "domain": [7.94e-11, 1.41]}, "axis": {"orient": "right", "values": [1e-10,1e-9,1e-8,1e-7,1e-6,1e-5,1e-4,1e-3,1e-2,1e-1,1], "labels": false, "title": null}}
     }}
 ],
 "resolve": {"scale": {"x": "independent", "y": "independent"}}
}
]
}
